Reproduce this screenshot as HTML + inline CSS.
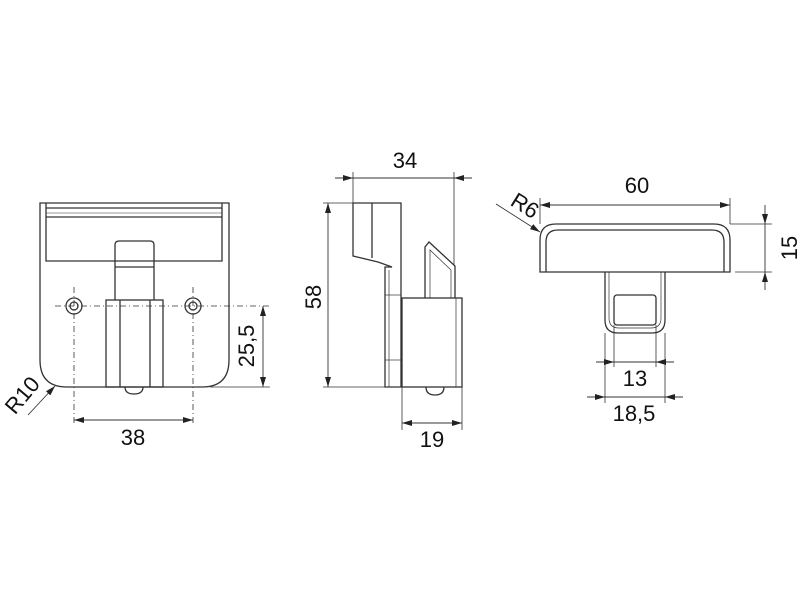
<!DOCTYPE html>
<html><head><meta charset="utf-8"><style>html,body{margin:0;padding:0;background:#fff}svg{display:block}text{font-family:"Liberation Sans",sans-serif;font-size:22px;fill:#111}</style></head><body>
<svg width="800" height="600" viewBox="0 0 800 600" xmlns="http://www.w3.org/2000/svg">
<defs>
<marker id="a" viewBox="0 0 10 6" refX="10" refY="3" markerWidth="10" markerHeight="6" orient="auto-start-reverse" markerUnits="userSpaceOnUse"><path d="M0,0L10,3L0,6z" fill="#222"/></marker>
</defs>
<g fill="none" stroke="#333" stroke-width="1.3">
<path d="M40,203 L229,203 L229,360 Q229,387 202,387 L67,387 Q40,387 40,360 Z"/>
<path d="M46,203 L46,261 L222,261 L222,203"/>
<line x1="46" y1="208" x2="222" y2="208"/><line x1="46" y1="217" x2="222" y2="217"/><line x1="46" y1="213" x2="222" y2="213" stroke-width="0.6"/>
<path d="M115,300 L115,245 Q115,241 119,241 L150,241 Q154,241 154,245 L154,300"/>
<line x1="115" y1="267" x2="154" y2="267"/>
<rect x="106" y="300" width="57" height="87"/>
<line x1="120" y1="300" x2="120" y2="387"/><line x1="150" y1="300" x2="150" y2="387"/>
<path d="M125,387 Q125,394 134,394 Q143,394 143,387"/>
<circle cx="74" cy="306" r="8"/><circle cx="74" cy="306" r="4"/>
<circle cx="193" cy="306" r="8"/><circle cx="193" cy="306" r="4"/>
<g stroke-dasharray="6,3,1,3" stroke-width="0.8">
<line x1="55" y1="306" x2="270" y2="306"/>
<line x1="74" y1="287" x2="74" y2="425"/><line x1="193" y1="287" x2="193" y2="425"/>
</g>
<line x1="210" y1="387" x2="270" y2="387" stroke-width="0.8"/>
<line x1="263" y1="306" x2="263" y2="387" stroke-width="0.9" marker-start="url(#a)" marker-end="url(#a)"/>
<line x1="74" y1="420" x2="193" y2="420" stroke-width="0.9" marker-start="url(#a)" marker-end="url(#a)"/>
<line x1="28" y1="415" x2="55" y2="386" stroke-width="0.9" marker-end="url(#a)"/>
<path d="M353,203 L401,203 L401,387 L385,387 L385,267 L392,267 L378,262 L353,256 Z"/>
<line x1="372" y1="203" x2="372" y2="258"/>
<line x1="389" y1="270" x2="389" y2="387" stroke-width="0.7"/>
<line x1="385" y1="295" x2="401" y2="295" stroke-width="0.7"/>
<line x1="385" y1="360" x2="401" y2="360" stroke-width="0.7"/>
<rect x="402" y="298" width="60" height="89"/>
<line x1="456" y1="298" x2="456" y2="387" stroke-width="0.7"/>
<path d="M425,298 L425,247 L429,242 L455,266 L455,298"/>
<path d="M430,298 L430,250 L451,270 L451,298" stroke-width="0.7"/>
<path d="M426,387 Q426,395 435,395 Q444,395 444,387"/>
<g stroke-width="0.8">
<line x1="353" y1="172" x2="353" y2="203"/><line x1="454" y1="172" x2="454" y2="265"/>
<line x1="323" y1="203" x2="353" y2="203"/><line x1="323" y1="387" x2="385" y2="387"/>
<line x1="402" y1="387" x2="402" y2="430"/><line x1="462" y1="387" x2="462" y2="430"/>
</g>
<line x1="335" y1="178" x2="472" y2="178" stroke-width="0.9"/>
<line x1="335" y1="178" x2="353" y2="178" stroke-width="0.9" marker-end="url(#a)"/>
<line x1="472" y1="178" x2="454" y2="178" stroke-width="0.9" marker-end="url(#a)"/>
<line x1="328" y1="203" x2="328" y2="387" stroke-width="0.9" marker-start="url(#a)" marker-end="url(#a)"/>
<line x1="402" y1="423" x2="462" y2="423" stroke-width="0.9" marker-start="url(#a)" marker-end="url(#a)"/>
<path d="M540,272 L540,240 Q540,224 556,224 L714,224 Q730,224 730,240 L730,272 Z"/>
<path d="M546,272 L546,242 Q546,230 558,230 L712,230 Q724,230 724,242 L724,272"/>
<path d="M605,272 L605,320 Q605,333 618,333 L652,333 Q665,333 665,320 L665,272"/>
<path d="M609,272 L609,318 Q609,328 619,328 L651,328 Q661,328 661,318 L661,272" stroke-width="0.7"/>
<rect x="614" y="295" width="42" height="30" rx="3"/>
<g stroke-width="0.8">
<line x1="540" y1="198" x2="540" y2="224"/><line x1="730" y1="198" x2="730" y2="224"/>
<line x1="730" y1="224" x2="772" y2="224"/><line x1="735" y1="272" x2="772" y2="272"/>
<line x1="605" y1="333" x2="605" y2="403"/><line x1="665" y1="333" x2="665" y2="403"/>
<line x1="614" y1="325" x2="614" y2="367"/><line x1="656" y1="325" x2="656" y2="367"/>
</g>
<line x1="540" y1="205" x2="730" y2="205" stroke-width="0.9" marker-start="url(#a)" marker-end="url(#a)"/>
<line x1="765" y1="205" x2="765" y2="224" stroke-width="0.9" marker-end="url(#a)"/>
<line x1="765" y1="290" x2="765" y2="272" stroke-width="0.9" marker-end="url(#a)"/>
<line x1="765" y1="224" x2="765" y2="272" stroke-width="0.9"/>
<line x1="596" y1="362" x2="614" y2="362" stroke-width="0.9" marker-end="url(#a)"/>
<line x1="674" y1="362" x2="656" y2="362" stroke-width="0.9" marker-end="url(#a)"/>
<line x1="614" y1="362" x2="656" y2="362" stroke-width="0.9"/>
<line x1="587" y1="397" x2="605" y2="397" stroke-width="0.9" marker-end="url(#a)"/>
<line x1="683" y1="397" x2="665" y2="397" stroke-width="0.9" marker-end="url(#a)"/>
<line x1="605" y1="397" x2="665" y2="397" stroke-width="0.9"/>
<line x1="496" y1="204" x2="540" y2="232" stroke-width="0.9" marker-end="url(#a)"/>
</g>
<text x="133" y="445" text-anchor="middle">38</text>
<text transform="translate(254,346) rotate(-90)" text-anchor="middle">25,5</text>
<text transform="translate(28,400) rotate(-50)" text-anchor="middle">R10</text>
<text x="405" y="168" text-anchor="middle">34</text>
<text transform="translate(321,297) rotate(-90)" text-anchor="middle">58</text>
<text x="432" y="447" text-anchor="middle">19</text>
<text x="637" y="193" text-anchor="middle">60</text>
<text transform="translate(797,248) rotate(-90)" text-anchor="middle">15</text>
<text transform="translate(521,212) rotate(32)" text-anchor="middle">R6</text>
<text x="635" y="386" text-anchor="middle">13</text>
<text x="634" y="421" text-anchor="middle">18,5</text>
</svg>
</body></html>
